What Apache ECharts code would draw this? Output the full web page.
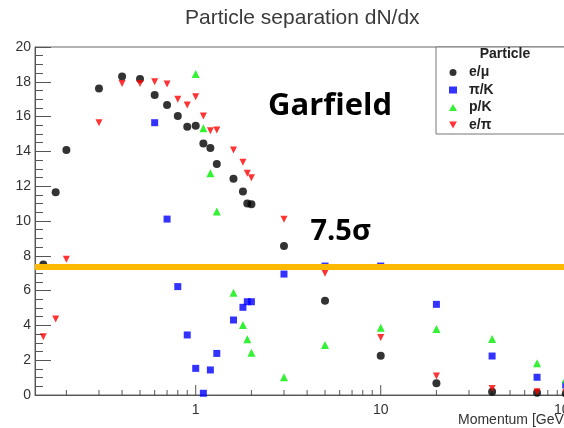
<!DOCTYPE html>
<html>
<head>
<meta charset="utf-8">
<script src="https://cdn.jsdelivr.net/npm/echarts@6/dist/echarts.min.js"></script>
<style>html,body{margin:0;padding:0;background:#fff;}#c{width:564px;height:428px;}</style>
</head>
<body>
<div id="c"></div>
<script>
// ---- data ----
const seriesNames = ['e/\u03bc', '\u03c0/K', 'p/K', 'e/\u03c0'];
const eMuP   = [0.15,0.175,0.2,0.3,0.4,0.5,0.6,0.7,0.8,0.9,1.0,1.1,1.2,1.3,1.6,1.8,1.9,2.0,3,5,10,20,40,70,100];
const eMuSep = [7.5,11.65,14.08,17.62,18.3,18.16,17.24,16.67,16.03,15.42,15.48,14.46,14.2,13.28,12.43,11.69,11.0,10.96,8.56,5.42,2.26,0.67,0.19,0.13,0.08];
const piKP   = [0.6,0.7,0.8,0.9,1.0,1.1,1.2,1.3,1.6,1.8,1.9,2.0,3,5,10,20,40,70,100];
const piKSep = [15.65,10.11,6.23,3.45,1.53,0.1,1.44,2.39,4.31,5.04,5.36,5.36,6.95,7.41,7.41,5.21,2.24,1.02,0.57];
const pKP    = [1.0,1.1,1.2,1.3,1.6,1.8,1.9,2.0,3,5,10,20,40,70,100];
const pKSep  = [18.45,15.33,12.74,10.54,5.88,4.02,3.2,2.43,1.02,2.87,3.87,3.79,3.22,1.82,0.9];
const ePiP   = [0.15,0.175,0.2,0.3,0.4,0.5,0.6,0.7,0.8,0.9,1.0,1.1,1.2,1.3,1.6,1.8,1.9,2.0,3,5,10,20,40,70,100];
const ePiSep = [3.35,4.37,7.8,15.65,17.9,17.9,18.0,17.87,17.0,16.67,17.14,16.03,15.19,15.23,14.08,13.37,12.74,12.49,10.1,6.99,3.31,1.09,0.38,0.19,0.15];
const xTickValues = [0.2,0.3,0.4,0.5,0.6,0.7,0.8,0.9,1,2,3,4,5,6,7,8,9,10,20,30,40,50,60,70,80,90,100];
const threshold = 7.35;

const zip = (a, b) => a.map((v, i) => [v, b[i]]);
const axisGray = '#555';
const downTri = 'path://M0,0L10,0L5,9Z';

const chart = echarts.init(document.getElementById('c'), null, {renderer: 'canvas'});
chart.setOption({
  animation: false,
  backgroundColor: '#fff',
  title: {
    text: 'Particle separation dN/dx',
    left: 180, top: 3,
    textStyle: {fontFamily: 'Liberation Sans', fontSize: 21, fontWeight: 'normal', color: '#3a3a3a'}
  },
  grid: {left: 35, right: -3, top: 47, bottom: 33, outerBoundsMode: 'none', containLabel: false,
         show: true, borderColor: '#666', borderWidth: 1, backgroundColor: 'transparent'},
  xAxis: {
    type: 'log', logBase: 10, min: 0.1353, max: 101.6,
    axisLine: {show: true, lineStyle: {color: axisGray}},
    axisTick: {show: false},
    splitLine: {show: false},
    axisLabel: {
      fontFamily: 'Liberation Sans', fontSize: 14, color: '#333', margin: 8, hideOverlap: false,
      formatter: function (v) {
        const l = Math.log10(v);
        return Math.abs(l - Math.round(l)) < 1e-6 ? String(Math.round(v)) : '';
      }
    }
  },
  yAxis: {
    type: 'value', min: 0, max: 20, interval: 2,
    axisLine: {show: true, lineStyle: {color: axisGray}},
    axisTick: {show: true, inside: true, length: 16, lineStyle: {color: axisGray}},
    minorTick: {show: true, splitNumber: 4, length: 8, lineStyle: {color: axisGray}},
    splitLine: {show: false},
    axisLabel: {fontFamily: 'Liberation Sans', fontSize: 14, color: '#333', margin: 4}
  },
  legend: {
    orient: 'vertical', left: 449, top: 65.5, padding: 0, itemGap: 3.5,
    itemWidth: 8, itemHeight: 7, selectedMode: false, z: 10,
    textStyle: {fontFamily: 'Liberation Sans', fontSize: 14, fontWeight: 'bold', color: '#222', padding: [0, 0, 0, 7]},
    data: seriesNames
  },
  graphic: [
    {type: 'rect', z: 5, shape: {x: 436, y: 47, width: 160, height: 87}, style: {fill: '#fff', stroke: '#777', lineWidth: 1}},
    {type: 'text', z: 6, style: {x: 505, y: 54.5, text: 'Particle', align: 'center', verticalAlign: 'middle', fontFamily: 'Liberation Sans', fontSize: 14, fontWeight: 'bold', fill: '#222'}},
    {type: 'text', z: 6, style: {x: 268, y: 106.5, text: 'Garfield', align: 'left', verticalAlign: 'middle', fontFamily: 'Open Sans', fontSize: 31, fontWeight: 'bold', fill: '#000'}},
    {type: 'text', z: 6, style: {x: 310.5, y: 231.5, text: '7.5\u03c3', align: 'left', verticalAlign: 'middle', fontFamily: 'Open Sans', fontSize: 29, fontWeight: 'bold', fill: '#000'}},
    {type: 'text', z: 6, style: {x: 458, y: 420, text: 'Momentum [GeV/c]', align: 'left', verticalAlign: 'middle', fontFamily: 'Liberation Sans', fontSize: 14, fill: '#333'}}
  ],
  series: [
    {
      type: 'custom', silent: true, z: 1,
      data: xTickValues.map(v => [v, 0]),
      encode: {x: 0, y: 1},
      renderItem: function (params, api) {
        const v = api.value(0);
        const p = api.coord([v, 0]);
        const l = Math.log10(v);
        const major = Math.abs(l - Math.round(l)) < 1e-6;
        const len = major ? 10 : 5;
        return {type: 'line', shape: {x1: p[0], y1: p[1], x2: p[0], y2: p[1] - len}, style: {stroke: axisGray, lineWidth: 1}};
      }
    },
    {name: seriesNames[0], type: 'scatter', clip: false, symbol: 'circle', symbolSize: 8, itemStyle: {color: '#000'}, data: zip(eMuP, eMuSep)},
    {name: seriesNames[1], type: 'scatter', clip: false, symbol: 'rect', symbolSize: 7, itemStyle: {color: '#0000ff'}, data: zip(piKP, piKSep)},
    {name: seriesNames[2], type: 'scatter', clip: false, symbol: 'triangle', symbolSize: 8, itemStyle: {color: '#00ee00'}, data: zip(pKP, pKSep)},
    {name: seriesNames[3], type: 'scatter', clip: false, symbol: downTri, symbolSize: 7, itemStyle: {color: '#ff0000'}, data: zip(ePiP, ePiSep),
      markLine: {
        silent: true, symbol: 'none', z: 8,
        label: {show: false},
        lineStyle: {color: '#ffb900', width: 6, type: 'solid'},
        emphasis: {disabled: true},
        data: [{yAxis: threshold}]
      }
    }
  ]
});
</script>
</body>
</html>
